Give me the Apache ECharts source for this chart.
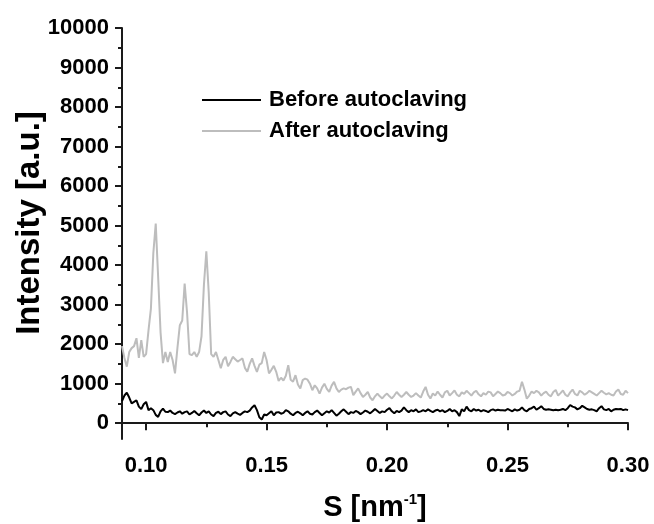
<!DOCTYPE html>
<html>
<head>
<meta charset="utf-8">
<script src="https://cdn.jsdelivr.net/npm/echarts@6/dist/echarts.min.js"></script>
<style>
html,body{margin:0;padding:0;background:#fff;}
#chart{width:654px;height:524px;}
</style>
</head>
<body>
<div id="chart"></div>
<script>
// S values [nm^-1]
const sValues = [
0.090,0.091,0.092,0.093,0.094,0.095,0.096,0.097,0.098,0.099,
0.100,0.101,0.102,0.103,0.104,0.105,0.106,0.107,0.108,0.109,
0.110,0.111,0.112,0.113,0.114,0.115,0.116,0.117,0.118,0.119,
0.120,0.121,0.122,0.123,0.124,0.125,0.126,0.127,0.128,0.129,
0.130,0.131,0.132,0.133,0.134,0.135,0.136,0.137,0.138,0.139,
0.140,0.141,0.142,0.143,0.144,0.145,0.146,0.147,0.148,0.149,
0.150,0.151,0.152,0.153,0.154,0.155,0.156,0.157,0.158,0.159,
0.160,0.161,0.162,0.163,0.164,0.165,0.166,0.167,0.168,0.169,
0.170,0.171,0.172,0.173,0.174,0.175,0.176,0.177,0.178,0.179,
0.180,0.181,0.182,0.183,0.184,0.185,0.186,0.187,0.188,0.189,
0.190,0.191,0.192,0.193,0.194,0.195,0.196,0.197,0.198,0.199,
0.200,0.201,0.202,0.203,0.204,0.205,0.206,0.207,0.208,0.209,
0.210,0.211,0.212,0.213,0.214,0.215,0.216,0.217,0.218,0.219,
0.220,0.221,0.222,0.223,0.224,0.225,0.226,0.227,0.228,0.229,
0.230,0.231,0.232,0.233,0.234,0.235,0.236,0.237,0.238,0.239,
0.240,0.241,0.242,0.243,0.244,0.245,0.246,0.247,0.248,0.249,
0.250,0.251,0.252,0.253,0.254,0.255,0.256,0.257,0.258,0.259,
0.260,0.261,0.262,0.263,0.264,0.265,0.266,0.267,0.268,0.269,
0.270,0.271,0.272,0.273,0.274,0.275,0.276,0.277,0.278,0.279,
0.280,0.281,0.282,0.283,0.284,0.285,0.286,0.287,0.288,0.289,
0.290,0.291,0.292,0.293,0.294,0.295,0.296,0.297,0.298,0.299,
0.300
];

// Before autoclaving (black)
const beforeValues = [
560,700,770,650,500,540,580,420,355,480,
540,330,380,330,210,160,300,370,290,280,
320,260,230,270,300,240,280,300,220,260,
310,250,200,270,320,260,300,220,180,260,
290,230,280,300,220,180,250,280,240,210,
260,300,280,320,400,455,330,150,95,220,
200,250,300,200,270,280,240,260,330,300,
240,200,260,290,250,200,260,300,240,220,
280,320,260,200,250,300,270,330,260,190,
240,300,350,290,230,280,260,310,280,230,
270,320,290,250,300,360,310,260,300,280,
340,380,300,250,310,280,320,400,330,280,
330,300,350,280,300,330,300,350,310,280,
320,340,300,330,280,310,360,300,330,280,
180,350,300,420,330,300,360,320,340,300,
330,310,280,330,350,320,340,330,330,320,
360,330,300,350,320,340,400,330,300,360,
380,420,340,380,430,360,340,350,340,330,
340,330,340,360,330,380,460,420,400,350,
380,440,400,360,340,350,330,300,380,430,
350,330,360,300,340,360,350,360,330,350,
330
];

// After autoclaving (gray)
const afterValues = [
1950,1650,1430,1800,1900,1950,2150,1650,2100,1680,
1750,2350,2900,4300,5050,3700,2300,1520,1800,1550,
1800,1600,1260,1900,2480,2600,3530,2800,1750,1720,
1800,1680,1800,2200,3500,4350,3300,1750,1680,1800,
1600,1390,1600,1680,1440,1550,1680,1620,1560,1600,
1640,1400,1300,1500,1640,1450,1300,1480,1520,1800,
1600,1260,1350,1450,1300,1070,1150,1080,1200,1470,
1100,1050,1215,980,880,1090,1130,1100,1000,835,
960,880,750,900,1000,870,790,950,1045,880,
790,850,880,860,900,920,710,800,880,760,
665,720,790,650,580,680,750,680,625,700,
750,680,625,700,790,720,665,720,790,720,
665,700,760,700,650,800,920,720,625,750,
700,800,720,650,780,820,700,760,830,720,
680,780,740,820,760,700,780,820,730,680,
760,720,800,780,680,740,800,760,700,720,
790,760,700,740,800,820,1050,850,620,700,
800,760,820,780,700,760,800,720,680,790,
840,700,760,830,720,680,780,850,740,700,
820,780,720,760,820,780,740,700,760,820,
770,730,760,720,700,800,850,740,720,820,
760
];

const seriesNames = ['Before autoclaving', 'After autoclaving'];
const yTitle = 'Intensity [a.u.]';
const xMajorTicks = [0.10, 0.15, 0.20, 0.25, 0.30];
const xMinorTicks = [0.125, 0.175, 0.225, 0.275];
const yMajorTicks = [0,1000,2000,3000,4000,5000,6000,7000,8000,9000,10000];
const yMinorTicks = [500,1500,2500,3500,4500,5500,6500,7500,8500,9500];

const FONT = '"Liberation Sans", Arial, Helvetica, sans-serif';
const axisColor = '#1a1a1a';

const pairs = (xs, ys) => xs.map((x, i) => [x, ys[i]]);

const chart = echarts.init(document.getElementById('chart'), null, {renderer: 'canvas'});
chart.setOption({
  animation: false,
  backgroundColor: '#ffffff',
  grid: {left: 122, right: 26, top: 28, bottom: 85, containLabel: false, outerBoundsMode: 'none'},
  graphic: [{
    type: 'text',
    x: 30, y: 223,
    rotation: Math.PI / 2,
    style: {
      text: yTitle,
      fontFamily: FONT, fontWeight: 'bold', fontSize: 33, fill: '#000',
      textAlign: 'center', textVerticalAlign: 'middle'
    }
  }],
  legend: {
    data: seriesNames,
    orient: 'vertical',
    left: 197,
    top: 84,
    itemWidth: 59,
    itemHeight: 2,
    itemGap: 9,
    icon: 'rect',
    textStyle: {fontFamily: FONT, fontWeight: 'bold', fontSize: 22, color: '#000', lineHeight: 22, padding: [0,0,0,3]}
  },
  xAxis: [{
    type: 'value', min: 0.09, max: 0.30, position: 'bottom',
    axisLine: {show: true, lineStyle: {color: axisColor, width: 2}},
    axisTick: {show: true, inside: false, length: 7, lineStyle: {color: axisColor, width: 2}, customValues: xMajorTicks},
    axisLabel: {show: true, margin: 16, customValues: xMajorTicks, formatter: v => v.toFixed(2),
      fontFamily: FONT, fontWeight: 'bold', fontSize: 22, color: '#000'},
    splitLine: {show: false},
    name: '{t|S [nm}{s|-1}{t|]}',
    nameLocation: 'middle',
    nameGap: 53,
    nameTextStyle: {rich: {
      t: {fontFamily: FONT, fontWeight: 'bold', fontSize: 29, color: '#000', lineHeight: 32},
      s: {fontFamily: FONT, fontWeight: 'bold', fontSize: 15, color: '#000', verticalAlign: 'top', lineHeight: 32}
    }}
  }, {
    type: 'value', min: 0.09, max: 0.30, position: 'bottom', offset: 0,
    axisLine: {show: false},
    axisTick: {show: true, inside: false, length: 4, lineStyle: {color: axisColor, width: 2}, customValues: xMinorTicks},
    axisLabel: {show: false},
    splitLine: {show: false}
  }],
  yAxis: [{
    type: 'value', min: -400, max: 10000, position: 'left',
    axisLine: {show: true, lineStyle: {color: axisColor, width: 2}},
    axisTick: {show: true, inside: false, length: 7, lineStyle: {color: axisColor, width: 2}, customValues: yMajorTicks},
    axisLabel: {show: true, margin: 13, customValues: yMajorTicks, formatter: v => String(v),
      fontFamily: FONT, fontWeight: 'bold', fontSize: 22, color: '#000'},
    splitLine: {show: false}
  }, {
    type: 'value', min: -400, max: 10000, position: 'left', offset: 0,
    axisLine: {show: false},
    axisTick: {show: true, inside: false, length: 4, lineStyle: {color: axisColor, width: 2}, customValues: yMinorTicks},
    axisLabel: {show: false},
    splitLine: {show: false}
  }],
  series: [{
    name: seriesNames[0], type: 'line', xAxisIndex: 0, yAxisIndex: 0,
    data: pairs(sValues, beforeValues),
    showSymbol: false, symbol: 'none',
    lineStyle: {color: '#000000', width: 2},
    itemStyle: {color: '#000000'},
    z: 3
  }, {
    name: seriesNames[1], type: 'line', xAxisIndex: 0, yAxisIndex: 0,
    data: pairs(sValues, afterValues),
    showSymbol: false, symbol: 'none',
    lineStyle: {color: '#bdbdbd', width: 2},
    itemStyle: {color: '#bdbdbd'},
    z: 2
  }]
});
</script>
</body>
</html>
